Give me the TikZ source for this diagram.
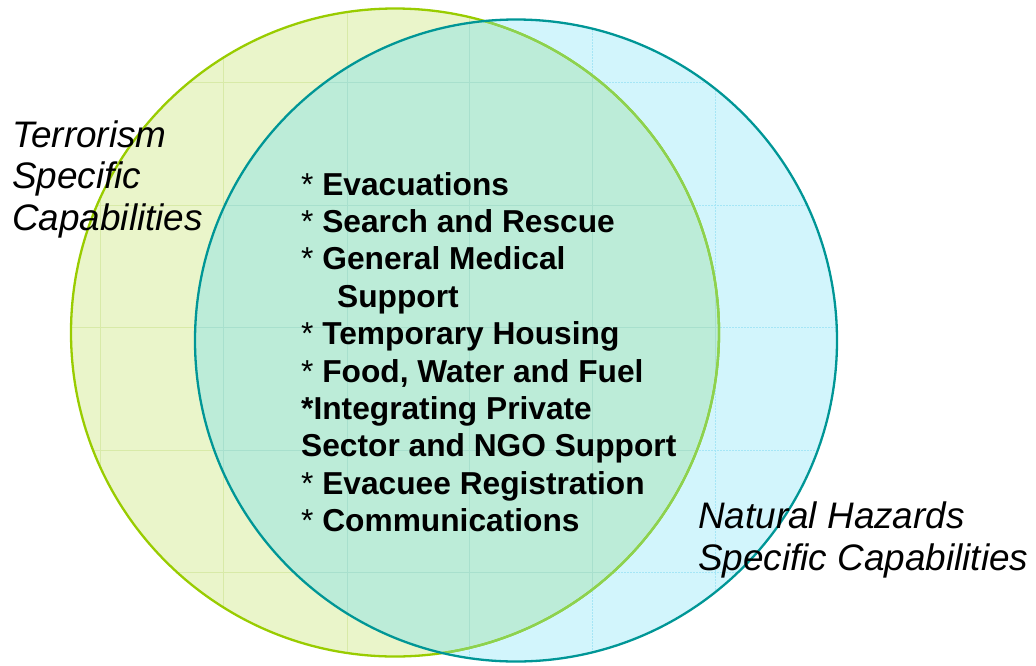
\documentclass[tikz,border=0pt]{standalone}
\usepackage{fontspec}
\setmainfont{Liberation Sans}
\definecolor{yfill}{RGB}{234,245,202}
\definecolor{cfill}{RGB}{210,245,252}
\definecolor{ofill}{RGB}{188,236,216}
\definecolor{ygrid}{RGB}{216,234,168}
\definecolor{cgrid}{RGB}{165,230,246}
\definecolor{ogrid}{RGB}{168,224,205}
\definecolor{ystroke}{RGB}{153,204,0}
\definecolor{ystrokein}{RGB}{140,210,80}
\definecolor{cstroke}{RGB}{0,150,150}
\tikzset{
  item/.style={anchor=base west, inner sep=0pt, font=\fontsize{31.7}{37.5}\selectfont\bfseries},
  label/.style={anchor=base west, inner sep=0pt, font=\fontsize{36.9}{42}\selectfont\itshape},
  gridlines/.style={line width=0.8pt}
}
\begin{document}
\begin{tikzpicture}[x=1pt,y=-1pt]
\useasboundingbox (0,0) rectangle (1036,665);
\def\Lc{(395,332.5) circle[radius=324]}
\def\Rc{(516,340.5) circle[radius=321]}
% fills
\fill[yfill] \Lc;
\fill[cfill] \Rc;
\begin{scope}
  \clip \Lc;
  \fill[ofill] \Rc;
\end{scope}
% grid in left circle
\begin{scope}
  \clip \Lc;
  \foreach \gx in {100,223,347,469,592,715}
    \draw[gridlines,ygrid] (\gx,0) -- (\gx,665);
  \foreach \gy in {82,205,327,450,572}
    \draw[gridlines,ygrid] (0,\gy) -- (1036,\gy);
\end{scope}
% grid in right circle
\begin{scope}
  \clip \Rc;
  \foreach \gx in {100,223,347,469,592,715}
    \draw[gridlines,cgrid,dash pattern=on 2pt off 1pt] (\gx,0) -- (\gx,665);
  \foreach \gy in {82,205,327,450,572}
    \draw[gridlines,cgrid,dash pattern=on 2pt off 1pt] (0,\gy) -- (1036,\gy);
\end{scope}
% grid in overlap
\begin{scope}
  \clip \Lc;
  \clip \Rc;
  \foreach \gx in {100,223,347,469,592,715}
    \draw[gridlines,ogrid] (\gx,0) -- (\gx,665);
  \foreach \gy in {82,205,327,450,572}
    \draw[gridlines,ogrid] (0,\gy) -- (1036,\gy);
\end{scope}
% strokes
\draw[ystroke,line width=2.3pt] \Lc;
\begin{scope}
  \clip \Rc;
  \draw[ystrokein,line width=2.3pt] \Lc;
\end{scope}
\draw[cstroke,line width=2.3pt] \Rc;
% side labels
\node[label] (t1) at (12,147) {Terrorism};
\node[label] (t2) at (12,188.5) {Specific};
\node[label] (t3) at (12,230) {Capabilities};
\node[label] (n1) at (698,528) {Natural Hazards};
\node[label] (n2) at (698,570) {Specific Capabilities};
% list
\node[item] (i1) at (301,195) {\mdseries*\bfseries{} Evacuations};
\node[item] (i2) at (301,232.4) {\mdseries*\bfseries{} Search and Rescue};
\node[item] (i3) at (301,269.8) {\mdseries*\bfseries{} General Medical};
\node[item] (i4) at (337,307.2) {Support};
\node[item] (i5) at (301,344.6) {\mdseries*\bfseries{} Temporary Housing};
\node[item] (i6) at (301,382) {\mdseries*\bfseries{} Food, Water and Fuel};
\node[item] (i7) at (301,419.4) {*Integrating Private};
\node[item] (i8) at (301,456.8) {Sector and NGO Support};
\node[item] (i9) at (301,494.2) {\mdseries*\bfseries{} Evacuee Registration};
\node[item] (i10) at (301,531.6) {\mdseries*\bfseries{} Communications};
\end{tikzpicture}
\end{document}
